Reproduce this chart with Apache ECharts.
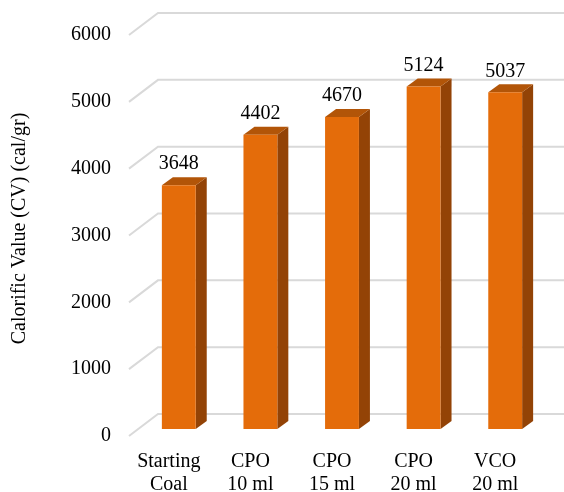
<!DOCTYPE html>
<html>
<head>
<meta charset="utf-8">
<script src="https://cdn.jsdelivr.net/npm/echarts@6/dist/echarts.min.js"></script>
<style>
  html, body { margin: 0; padding: 0; background: #ffffff; }
  #chart { width: 564px; height: 492px; }
</style>
</head>
<body>
<div id="chart"></div>
<script>
// Calorific value of the starting coal and the oil-treated samples
const categories = ['Starting\nCoal', 'CPO\n10 ml', 'CPO\n15 ml', 'CPO\n20 ml', 'VCO\n20 ml'];
const calorificValues = [3648, 4402, 4670, 5124, 5037];
const gridValues = [0, 1000, 2000, 3000, 4000, 5000, 6000];

// pseudo-3D geometry (pixels)
const WALL_DX = 20, WALL_DY = 15;     // bar front plane -> back wall
const EDGE_DX = 9, EDGE_DY = 7;       // bar front plane -> front edge of floor
const BAR_DX = 11, BAR_DY = 8;        // depth of each column
const BAR_RATIO = 0.415;              // column width as a share of the category band

const FRONT = '#e46c0a', SIDE = '#934306', TOP = '#b25508';
const FONT = 'Liberation Serif, Times New Roman, serif';

function renderWall(params, api) {
  const y = api.coord([0, api.value(1)])[1];
  const cs = params.coordSys;
  const L = cs.x, R = cs.x + cs.width;
  return {
    type: 'polyline',
    shape: { points: [[L - EDGE_DX, y + EDGE_DY], [L + WALL_DX, y - WALL_DY], [R + WALL_DX + 20, y - WALL_DY]] },
    style: { stroke: '#d9d9d9', lineWidth: 2, fill: null },
    silent: true
  };
}

function renderBar(params, api) {
  const idx = api.value(0), val = api.value(1);
  const top = api.coord([idx, val]);
  const base = api.coord([idx, 0]);
  const w = api.size([1, 0])[0] * BAR_RATIO;
  const x0 = top[0] - w / 2, x1 = top[0] + w / 2;
  const yt = top[1], yb = base[1];
  return {
    type: 'group',
    children: [
      { type: 'polygon', shape: { points: [[x1, yt], [x1 + BAR_DX, yt - BAR_DY], [x1 + BAR_DX, yb - BAR_DY], [x1, yb]] }, style: { fill: SIDE } },
      { type: 'polygon', shape: { points: [[x0, yt], [x0 + BAR_DX, yt - BAR_DY], [x1 + BAR_DX, yt - BAR_DY], [x1, yt]] }, style: { fill: TOP } },
      { type: 'rect', shape: { x: x0, y: yt, width: w, height: yb - yt }, style: { fill: FRONT } },
      { type: 'text', x: top[0], y: yt - 21, style: { text: String(val), fill: '#000', font: '20px ' + FONT, align: 'center', verticalAlign: 'middle' } }
    ]
  };
}

const chart = echarts.init(document.getElementById('chart'), null, { renderer: 'canvas' });
chart.setOption({
  backgroundColor: '#ffffff',
  animation: false,
  grid: { left: 138, right: 18, top: 28, bottom: 63, containLabel: false, outerBoundsMode: 'none' },
  xAxis: {
    type: 'category',
    data: categories,
    axisLine: { show: false },
    axisTick: { show: false },
    axisLabel: {
      color: '#000', fontFamily: FONT, fontSize: 20, lineHeight: 23,
      margin: 21, padding: [0, 20, 0, 0], interval: 0
    }
  },
  yAxis: {
    type: 'value',
    min: 0, max: 6000, interval: 1000,
    name: 'Calorific Value (CV) (cal/gr)',
    nameLocation: 'middle',
    nameGap: 108,
    nameTextStyle: { color: '#000', fontFamily: FONT, fontSize: 20 },
    axisLine: { show: false },
    axisTick: { show: false },
    splitLine: { show: false },
    axisLabel: {
      color: '#000', fontFamily: FONT, fontSize: 20, margin: 27,
      verticalAlign: 'top', lineHeight: 14,
      formatter: v => String(v)
    }
  },
  series: [
    {
      type: 'custom',
      z: 1,
      silent: true,
      renderItem: renderWall,
      encode: { x: 0, y: 1 },
      data: gridValues.map(v => [0, v])
    },
    {
      type: 'custom',
      z: 2,
      renderItem: renderBar,
      encode: { x: 0, y: 1 },
      data: calorificValues.map((v, i) => [i, v])
    }
  ]
});
</script>
</body>
</html>
